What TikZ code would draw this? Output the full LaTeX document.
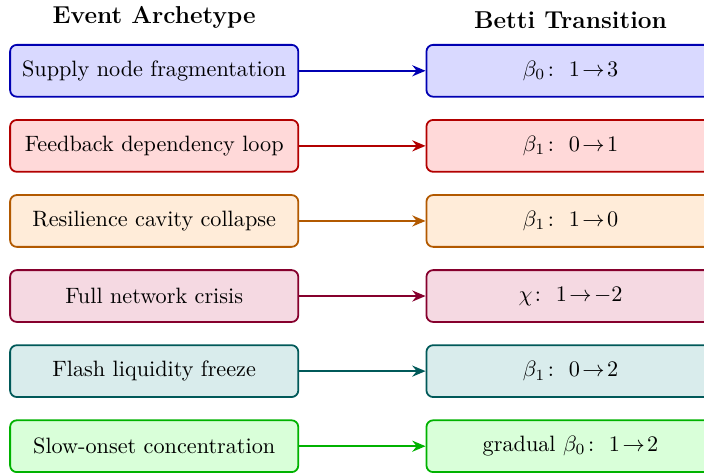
\documentclass[tikz,border=0pt]{standalone}
\usepackage{amsmath}
\usepackage{amssymb}
\usetikzlibrary{positioning,arrows.meta}

\begin{document}
\begin{tikzpicture}[
        box/.style={draw,rounded corners=3pt,thick,minimum width=4.56cm,minimum height=0.82cm,inner sep=2pt},
        ev/.style={box,draw=#1!70!black,fill=#1!15},
        head/.style={font=\bfseries\fontsize{11}{13}\selectfont,inner sep=2pt},
        link/.style={thick,draw=#1!70!black,-{Stealth[length=6pt,width=5pt,inset=2pt]}},
        node distance=0.34cm and 2.0cm]

    \clip (0,0) rectangle (11.14,-7.47);

    \node[ev=blue] (e1) at (2.44,-1.12) {Supply node fragmentation};
    \node[ev=red,below=of e1] (e2) {Feedback dependency loop};
    \node[ev=orange,below=of e2] (e3) {Resilience cavity collapse};
    \node[ev=purple,below=of e3] (e4) {Full network crisis};
    \node[ev=teal,below=of e4] (e5) {Flash liquidity freeze};
    \node[ev=green,below=of e5] (e6) {Slow-onset concentration};

    \node[ev=blue,right=of e1] (b1) {$\beta_0\colon\ 1\!\to\!3$};
    \node[ev=red,right=of e2] (b2) {$\beta_1\colon\ 0\!\to\!1$};
    \node[ev=orange,right=of e3] (b3) {$\beta_1\colon\ 1\!\to\!0$};
    \node[ev=purple,right=of e4] (b4) {$\chi\colon\ 1\!\to\!-2$};
    \node[ev=teal,right=of e5] (b5) {$\beta_1\colon\ 0\!\to\!2$};
    \node[ev=green,right=of e6] (b6) {gradual $\beta_0\colon\ 1\!\to\!2$};

    \node[head,above=0.17cm of e1] (h1) {Event Archetype};
    \node[head,above=0.17cm of b1] (h2) {Betti Transition};

    \draw[link=blue] (e1) -- (b1);
    \draw[link=red] (e2) -- (b2);
    \draw[link=orange] (e3) -- (b3);
    \draw[link=purple] (e4) -- (b4);
    \draw[link=teal] (e5) -- (b5);
    \draw[link=green] (e6) -- (b6);
\end{tikzpicture}
\end{document}
